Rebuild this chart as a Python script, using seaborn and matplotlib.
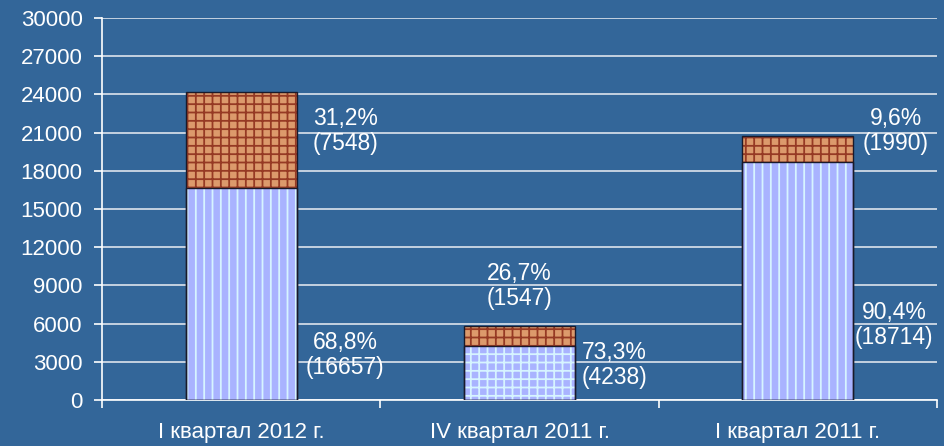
import matplotlib
matplotlib.use("Agg")
import matplotlib.pyplot as plt
import seaborn as sns
import pandas as pd
from matplotlib.patches import Rectangle

# data
quarters = ["I квартал 2012 г.", "IV квартал 2011 г.", "I квартал 2011 г."]
lower_vals = [16657, 4238, 18714]
upper_vals = [7548, 1547, 1990]
lower_pct = ["68,8%", "73,3%", "90,4%"]
upper_pct = ["31,2%", "26,7%", "9,6%"]

df = pd.DataFrame({"quarter": quarters, "lower": lower_vals, "upper": upper_vals})
df["total"] = df["lower"] + df["upper"]

bg = "#336699"
sns.set_theme(style="white")
plt.rcParams["font.family"] = ["Liberation Sans", "DejaVu Sans"]
plt.rcParams["hatch.linewidth"] = 1.3

fig = plt.figure(figsize=(9.45, 4.46), dpi=100, facecolor=bg)
ax = fig.add_axes([0.108, 0.1031, 0.8835, 0.8565])
ax.set_facecolor(bg)

# stacked bars: total first, lower part over it
sns.barplot(data=df, x="quarter", y="total", color="#dc9a6c", width=0.4,
            saturation=1, ax=ax, zorder=3)
n_top = len(ax.patches)
sns.barplot(data=df, x="quarter", y="lower", color="#a9b3ff", width=0.4,
            saturation=1, ax=ax, zorder=3)

hatches_low = ["||", "++", "||"]
for i, p in enumerate(ax.patches):
    if i < n_top:
        p.set_hatch("++")
        p.set_edgecolor("#963a24")
    else:
        p.set_hatch(hatches_low[i - n_top])
        p.set_edgecolor("#d6f4ff")
    p.set_linewidth(0)
    ax.add_patch(Rectangle(p.get_xy(), p.get_width(), p.get_height(),
                           fill=False, ec="#1a1a2a", lw=1, zorder=4))

ax.set_ylim(0, 30000)
ax.set_xlim(-0.5, 2.5)
ax.set_yticks(range(0, 30001, 3000))
ax.yaxis.grid(True, color="#dde3ec", lw=1.2, zorder=0)
ax.set_axisbelow(True)

for s in ["top", "right"]:
    ax.spines[s].set_visible(False)
for s in ["left", "bottom"]:
    ax.spines[s].set_color("white")
    ax.spines[s].set_linewidth(1.2)

ax.tick_params(axis="y", colors="white", labelsize=16, length=6, width=1.2,
               direction="out", pad=8, left=True)
ax.set_xticks([-0.5, 0.5, 1.5, 2.5], minor=True)
ax.tick_params(axis="x", which="minor", length=6, width=1.2, color="white",
               direction="out", bottom=True)
ax.tick_params(axis="x", which="major", length=0, labelsize=16,
               labelcolor="white", pad=16)
ax.set_xlabel("")
ax.set_ylabel("")

# labels next to bars
txt = dict(color="white", fontsize=16.5, ha="center", va="center", linespacing=1.12)
upper_pos = [(0.374, 21100), (1.0, 8950), (2.353, 21100)]
lower_pos = [(0.374, 3530), (1.342, 2750), (2.345, 5890)]
for i in range(len(quarters)):
    ax.text(upper_pos[i][0], upper_pos[i][1],
            f"{upper_pct[i]}\n({upper_vals[i]})", **txt, zorder=5)
    ax.text(lower_pos[i][0], lower_pos[i][1],
            f"{lower_pct[i]}\n({lower_vals[i]})", **txt, zorder=5)

fig.savefig("out.png", dpi=100, facecolor=bg)
